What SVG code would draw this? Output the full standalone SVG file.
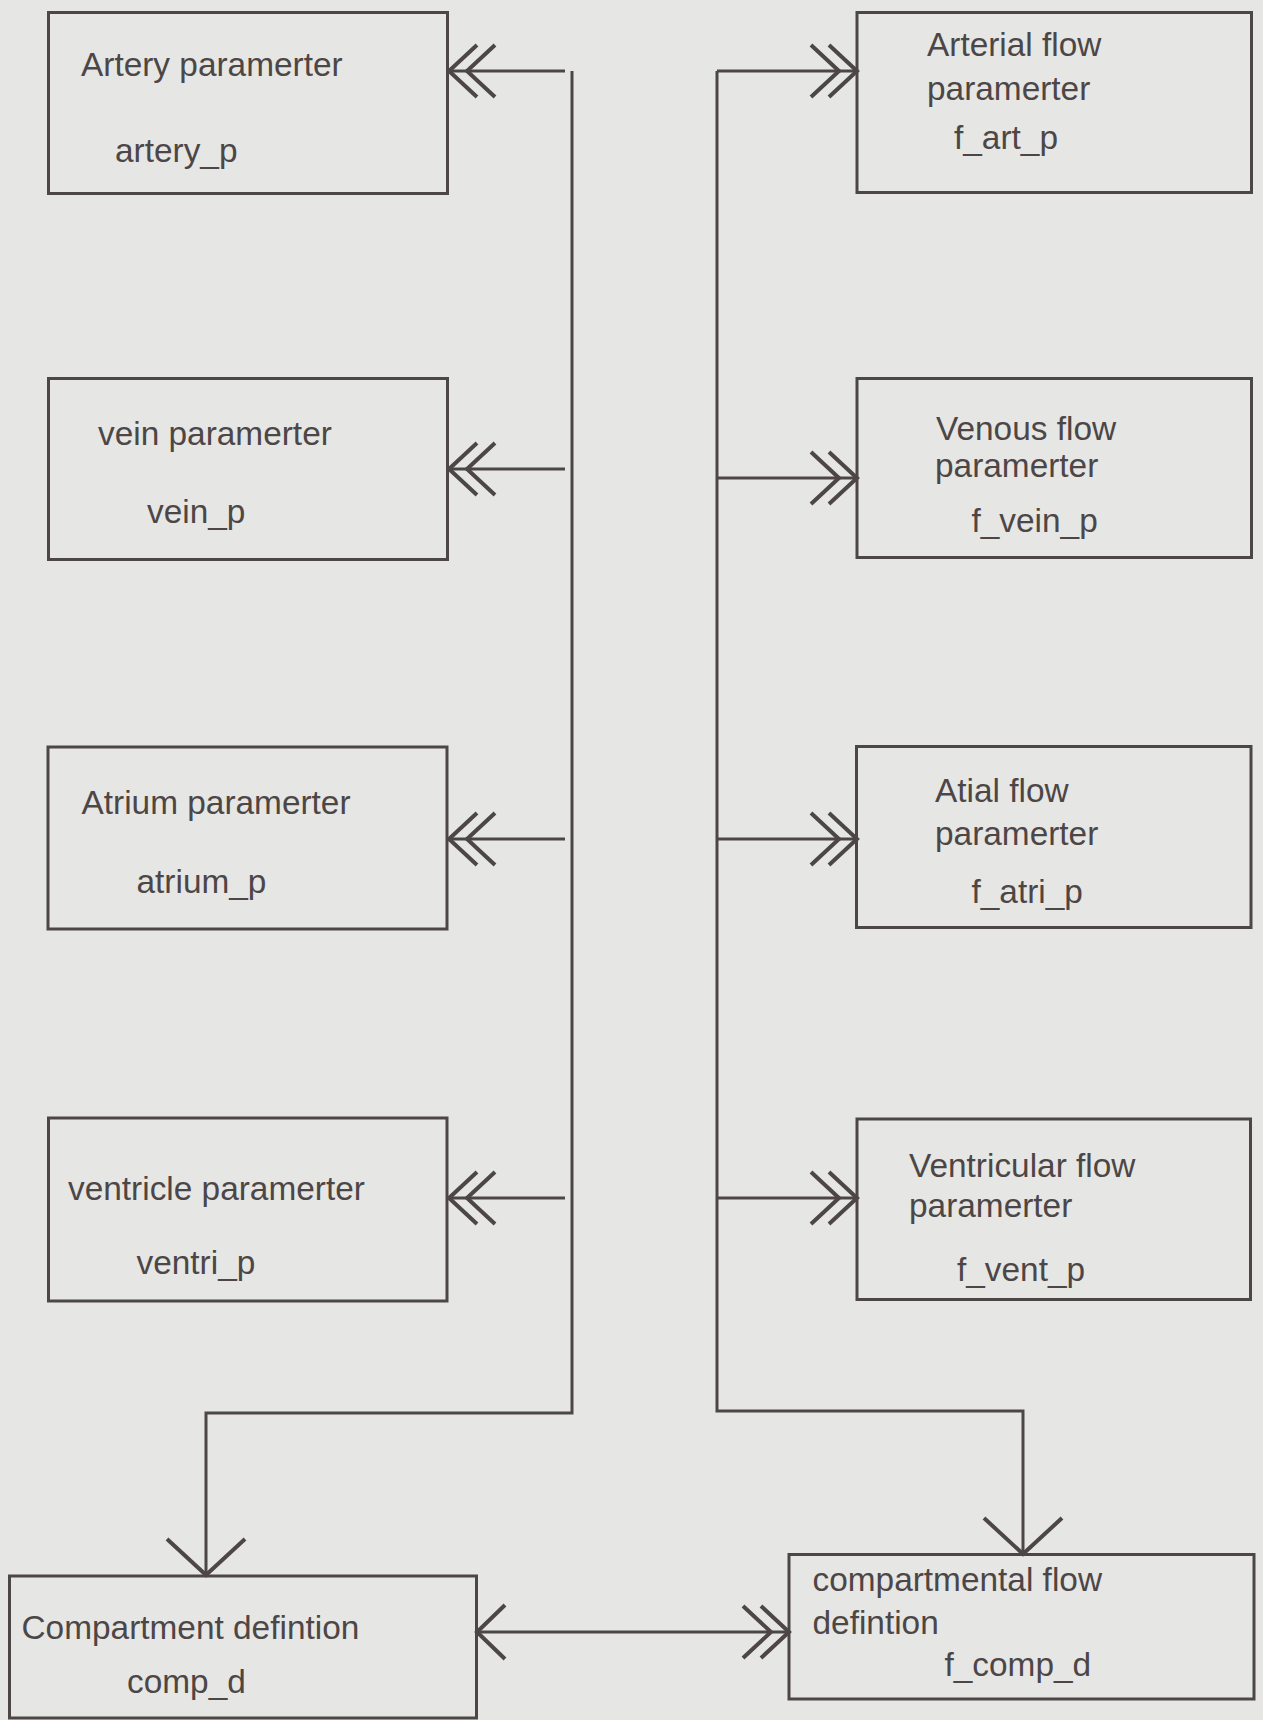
<svg xmlns="http://www.w3.org/2000/svg" width="1263" height="1720" viewBox="0 0 1263 1720">
<style>
.box{fill:none;stroke:#4d4646;stroke-width:3}
.t{font-family:"Liberation Sans",Arial,sans-serif;font-size:33.4px;fill:#4d4646}
.ln{fill:none;stroke:#4d4646;stroke-width:3}
</style>
<defs>
<marker id="dbl" markerUnits="userSpaceOnUse" viewBox="-52 -32 58 64" refX="0" refY="0" markerWidth="58" markerHeight="64" orient="auto">
<path d="M-28,-26 L0,0 L-28,26 M-46,-26 L-18,0 L-46,26" fill="none" stroke="#4d4646" stroke-width="4"/>
</marker>
<marker id="sgl" markerUnits="userSpaceOnUse" viewBox="-34 -32 40 64" refX="0" refY="0" markerWidth="40" markerHeight="64" orient="auto-start-reverse">
<path d="M-28,-27 L0,0 L-28,27" fill="none" stroke="#4d4646" stroke-width="4"/>
</marker>
<marker id="big" markerUnits="userSpaceOnUse" viewBox="-42 -44 48 88" refX="0" refY="0" markerWidth="48" markerHeight="88" orient="auto">
<path d="M-36,-39 L0,0 L-36,39" fill="none" stroke="#4d4646" stroke-width="4"/>
</marker>
</defs>
<rect width="1263" height="1720" fill="#e6e6e4"/>
<g id="connectors">
<path class="ln" d="M572,71 V1413 H206 V1575" marker-end="url(#big)"/>
<path class="ln" d="M717,71 V1411 H1023 V1554" marker-end="url(#big)"/>
<path class="ln" d="M565,71 H449" marker-end="url(#dbl)"/>
<path class="ln" d="M565,469 H449" marker-end="url(#dbl)"/>
<path class="ln" d="M565,839 H449" marker-end="url(#dbl)"/>
<path class="ln" d="M565,1198 H449" marker-end="url(#dbl)"/>
<path class="ln" d="M717,71 H857" marker-end="url(#dbl)"/>
<path class="ln" d="M717,478 H857" marker-end="url(#dbl)"/>
<path class="ln" d="M717,839 H857" marker-end="url(#dbl)"/>
<path class="ln" d="M717,1198 H857" marker-end="url(#dbl)"/>
<path class="ln" d="M477,1632 H789" marker-start="url(#sgl)" marker-end="url(#dbl)"/>
</g>
<g id="artery_p">
<rect class="box" x="48.5" y="12.5" width="399" height="181"/>
<text class="t" x="81" y="76">Artery paramerter</text>
<text class="t" x="115" y="162">artery_p</text>
</g>
<g id="vein_p">
<rect class="box" x="48.5" y="378.5" width="399" height="181"/>
<text class="t" x="98" y="445">vein paramerter</text>
<text class="t" x="147" y="523">vein_p</text>
</g>
<g id="atrium_p">
<rect class="box" x="48" y="747" width="399" height="182"/>
<text class="t" x="81.5" y="814">Atrium paramerter</text>
<text class="t" x="136.5" y="893">atrium_p</text>
</g>
<g id="ventri_p">
<rect class="box" x="48.5" y="1118" width="398.5" height="183"/>
<text class="t" x="68" y="1200">ventricle paramerter</text>
<text class="t" x="136.5" y="1274">ventri_p</text>
</g>
<g id="f_art_p">
<rect class="box" x="857" y="12.5" width="394.5" height="180"/>
<text class="t" x="927" y="56">Arterial flow</text>
<text class="t" x="927" y="100">paramerter</text>
<text class="t" x="954" y="149">f_art_p</text>
</g>
<g id="f_vein_p">
<rect class="box" x="857" y="378.5" width="394.5" height="179"/>
<text class="t" x="936" y="440">Venous flow</text>
<text class="t" x="935" y="477">paramerter</text>
<text class="t" x="971.5" y="531.5">f_vein_p</text>
</g>
<g id="f_atri_p">
<rect class="box" x="856.5" y="746.5" width="394.5" height="181"/>
<text class="t" x="935" y="802">Atial flow</text>
<text class="t" x="935" y="845">paramerter</text>
<text class="t" x="971.5" y="902.5">f_atri_p</text>
</g>
<g id="f_vent_p">
<rect class="box" x="857" y="1119" width="393.5" height="180.5"/>
<text class="t" x="909" y="1177">Ventricular flow</text>
<text class="t" x="909" y="1217">paramerter</text>
<text class="t" x="957" y="1281">f_vent_p</text>
</g>
<g id="comp_d">
<rect class="box" x="9.5" y="1576" width="467" height="142"/>
<text class="t" x="21.5" y="1639">Compartment defintion</text>
<text class="t" x="127" y="1693">comp_d</text>
</g>
<g id="f_comp_d">
<rect class="box" x="789" y="1554.5" width="465" height="144.5"/>
<text class="t" x="812.5" y="1591">compartmental flow</text>
<text class="t" x="812.5" y="1634">defintion</text>
<text class="t" x="944.5" y="1676">f_comp_d</text>
</g>
</svg>
